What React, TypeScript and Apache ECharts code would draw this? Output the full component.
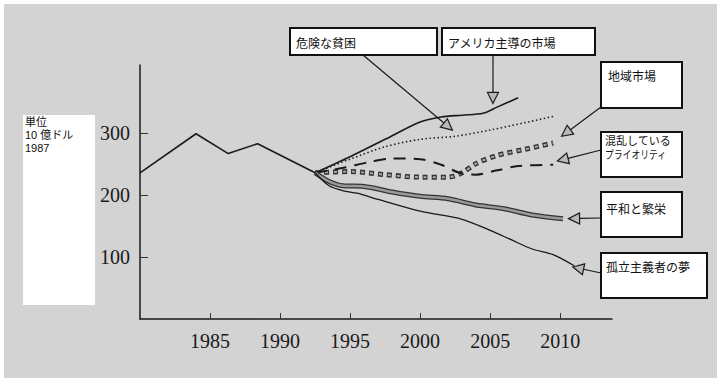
import React, { useEffect, useRef } from "react";
import * as echarts from "echarts";

// ---- data ----
const histYears = [1980, 1984, 1986.3, 1988.4, 1992.5];
const histValues = [236, 299, 267, 283, 236];

const usYears = [1992.5, 1995, 1997.5, 2000, 2001.5, 2003, 2004.5, 2005.5, 2007];
const usValues = [236, 262, 290, 318, 326, 329, 332, 342, 357];

const povertyYears = [1992.5, 1995, 1997.5, 2000, 2002.5, 2005, 2007.5, 2009.5];
const povertyValues = [236, 258, 278, 290, 295, 305, 317, 327];

const regionalYears = [1992.5, 1995, 1997.5, 2000, 2002, 2003, 2004, 2005.5, 2007.5, 2009.5];
const regionalValues = [236, 238, 233, 229, 229, 236, 251, 264, 274, 284];

const priorityYears = [1992.5, 1994.5, 1996.5, 1998, 2000, 2001.5, 2002.8, 2004, 2005.5, 2007, 2009.5];
const priorityValues = [236, 244, 254, 259, 258, 249, 236, 233, 240, 247, 249];

const peaceYears = [1992.5, 1993.5, 1994.5, 1996, 1998, 2000, 2002, 2004, 2006, 2008, 2010.2];
const peaceValues = [236, 222, 215, 214, 205, 198, 194, 184, 178, 168, 162];

const isoYears = [1992.5, 1993.5, 1994.5, 1995.5, 1997, 2000, 2003, 2005, 2006.5, 2008, 2009.5, 2011];
const isoValues = [236, 215, 207, 203, 193, 174, 161, 143, 128, 113, 104, 86];

const xTickValues = [1985, 1990, 1995, 2000, 2005, 2010];
const yTickValues = [100, 200, 300];
const unitLines = ["単位", "10 億ドル", "1987"];

const scenarioLabels: string[][] = [
  ["危険な貧困"],
  ["アメリカ主導の市場"],
  ["地域市場"],
  ["混乱している", "プライオリティ"],
  ["平和と繁栄"],
  ["孤立主義者の夢"],
];
// arrow tips in data coordinates [year, value]
const arrowTips: number[][] = [
  [2002.3, 305],
  [2005.2, 348],
  [2010.1, 295],
  [2009.8, 255],
  [2010.6, 162],
  [2010.9, 84],
];

// ---- layout (pixels) ----
const boxes = [
  { x: 290, y: 28, w: 147, h: 27, tx: 296, ty: 42, ax: 363, ay: 55 },
  { x: 442, y: 28, w: 153, h: 27, tx: 448, ty: 42, ax: 493, ay: 55 },
  { x: 601, y: 62, w: 81, h: 46, tx: 608, ty: 75, ax: 601, ay: 107 },
  { x: 601, y: 132, w: 81, h: 45, tx: 605, ty: 140, ax: 601, ay: 150 },
  { x: 601, y: 192, w: 81, h: 45, tx: 606, ty: 208, ax: 601, ay: 218 },
  { x: 601, y: 253, w: 106, h: 45, tx: 606, ty: 266, ax: 601, ay: 273 },
];

const pairs = (xs: number[], ys: number[]) => xs.map((x, i) => [x, ys[i]]);

export default function App() {
  const ref = useRef<HTMLDivElement>(null);
  useEffect(() => {
    if (!ref.current) return;
    const chart = echarts.init(ref.current, undefined, { renderer: "svg" });
    const base = {
      type: "line",
      showSymbol: false,
      symbol: "none",
      smooth: 0.3,
      silent: true,
    };
    chart.setOption({
      animation: false,
      backgroundColor: "transparent",
      grid: { left: 140, right: 108, top: 65, bottom: 64, containLabel: false },
      xAxis: {
        type: "value",
        min: 1980,
        max: 2013.7,
        splitLine: { show: false },
        axisLine: { lineStyle: { color: "#1a1a1a", width: 1.5 } },
        axisTick: {
          inside: true,
          length: 6,
          customValues: xTickValues,
          lineStyle: { color: "#333", width: 1 },
        },
        axisLabel: {
          customValues: xTickValues,
          fontFamily: "Liberation Serif",
          fontSize: 20,
          color: "#1a1a1a",
          margin: 12,
          formatter: (v: number) => String(v),
        },
      },
      yAxis: {
        type: "value",
        min: 0,
        max: 410,
        splitLine: { show: false },
        axisLine: { show: true, lineStyle: { color: "#1a1a1a", width: 1.5 } },
        axisTick: {
          show: true,
          inside: true,
          length: 8,
          customValues: yTickValues,
          lineStyle: { color: "#333", width: 1 },
        },
        axisLabel: {
          customValues: yTickValues,
          fontFamily: "Liberation Serif",
          fontSize: 20,
          color: "#1a1a1a",
          margin: 10,
        },
      },
      series: [
        { ...base, smooth: false, data: pairs(histYears, histValues), lineStyle: { color: "#1a1a1a", width: 1.6 } },
        { ...base, data: pairs(usYears, usValues), lineStyle: { color: "#1a1a1a", width: 1.6 } },
        { ...base, data: pairs(povertyYears, povertyValues), lineStyle: { color: "#222", width: 1.6, type: [1.5, 2.5] } },
        { ...base, data: pairs(regionalYears, regionalValues), lineStyle: { color: "#333", width: 5, type: [5, 4] } },
        { ...base, data: pairs(regionalYears, regionalValues), lineStyle: { color: "#aaa", width: 2, type: [3, 6], dashOffset: -1 } },
        { ...base, data: pairs(priorityYears, priorityValues), lineStyle: { color: "#1a1a1a", width: 2, type: [12, 8] } },
        { ...base, data: pairs(peaceYears, peaceValues), lineStyle: { color: "#333", width: 5 } },
        { ...base, data: pairs(peaceYears, peaceValues), lineStyle: { color: "#9a9a9a", width: 2.5 } },
        { ...base, data: pairs(isoYears, isoValues), lineStyle: { color: "#1a1a1a", width: 1.3 } },
      ],
    });

    const graphics: any[] = [];
    // unit box
    graphics.push({
      type: "rect",
      shape: { x: 23, y: 115, width: 72, height: 190 },
      style: { fill: "#ffffff" },
      silent: true,
    });
    unitLines.forEach((t, i) => {
      graphics.push({
        type: "text",
        x: 25,
        y: 122 + i * 13,
        style: {
          text: t,
          fontFamily: "Liberation Sans, Noto Sans CJK JP",
          fontSize: 11,
          fill: "#111",
          verticalAlign: "middle",
        },
        silent: true,
      });
    });
    boxes.forEach((b, i) => {
      const tip = chart.convertToPixel({ gridIndex: 0 }, arrowTips[i]) as number[];
      const [tx, ty] = tip;
      const dx = tx - b.ax;
      const dy = ty - b.ay;
      const len = Math.sqrt(dx * dx + dy * dy) || 1;
      const ux = dx / len;
      const uy = dy / len;
      const hl = 11;
      const hw = 5.5;
      const bx = tx - ux * hl;
      const by = ty - uy * hl;
      graphics.push({
        type: "line",
        shape: { x1: b.ax, y1: b.ay, x2: bx, y2: by },
        style: { stroke: "#1a1a1a", lineWidth: 1.2 },
        silent: true,
      });
      graphics.push({
        type: "polygon",
        shape: {
          points: [
            [tx, ty],
            [bx - uy * hw, by + ux * hw],
            [bx + uy * hw, by - ux * hw],
          ],
        },
        style: { fill: "#b8b8b8", stroke: "#1a1a1a", lineWidth: 1.2 },
        silent: true,
      });
      graphics.push({
        type: "rect",
        shape: { x: b.x, y: b.y, width: b.w, height: b.h },
        style: { fill: "#ffffff", stroke: "#111", lineWidth: 2 },
        silent: true,
      });
      const lines = scenarioLabels[i];
      lines.forEach((t, j) => {
        const multi = lines.length > 1;
        graphics.push({
          type: "text",
          x: b.tx,
          y: b.ty + j * 14,
          scaleX: multi && j === 1 ? 0.8 : 1,
          style: {
            text: t,
            fontFamily: "Noto Sans CJK JP",
            fontSize: multi ? 11 : 12,
            fill: "#111",
            verticalAlign: "middle",
          },
          silent: true,
        });
      });
    });
    chart.setOption({ graphic: graphics });
    return () => chart.dispose();
  }, []);

  return (
    <div style={{ position: "absolute", left: 0, top: 0, width: 720, height: 383, background: "#ffffff" }}>
      <div style={{ position: "absolute", left: 4, top: 4, width: 713, height: 374, background: "#d3d3d3" }} />
      <div ref={ref} style={{ position: "absolute", left: 0, top: 0, width: 720, height: 383 }} />
    </div>
  );
}
